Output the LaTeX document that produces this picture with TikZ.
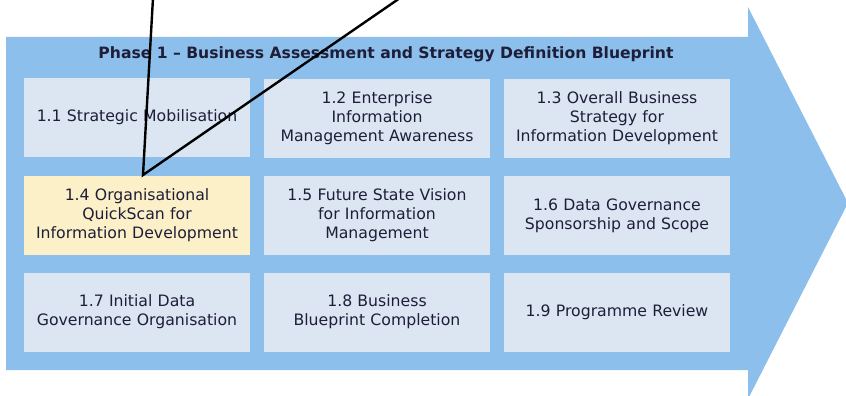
\documentclass[tikz,border=0pt]{standalone}
\usepackage{fontspec}
\setmainfont{DejaVu Sans}
\definecolor{arrowblue}{HTML}{8CBFEC}
\definecolor{boxfill}{HTML}{DCE6F2}
\definecolor{yellowfill}{HTML}{FCF0C8}
\definecolor{txt}{HTML}{1E1E38}
\begin{document}
\begin{tikzpicture}[x=1pt,y=-1pt,
  stepbox/.style={fill=boxfill, draw=none, minimum width=226pt, minimum height=79pt,
    inner sep=0pt, align=center, text=txt, font=\fontsize{15.7}{19}\selectfont, text width=224pt},
  hilite/.style={stepbox, fill=yellowfill},
  pointer/.style={line width=2.4pt, black, line cap=round}]
\useasboundingbox (0,0) rectangle (846,396);
\fill[arrowblue] (6,37) -- (748,37) -- (748,7) -- (848,203) -- (748,399) -- (748,370) -- (6,370) -- cycle;
\node[text=txt, font=\bfseries\fontsize{15.6}{18}\selectfont] (title) at (386,54) {Phase 1 – Business Assessment and Strategy Definition Blueprint};
\node[stepbox] (b11) at (137,117.5) {1.1 Strategic Mobilisation};
\node[stepbox] (b12) at (377,118.5) {1.2 Enterprise\\Information\\Management Awareness};
\node[stepbox] (b13) at (617,118.5) {1.3 Overall Business\\Strategy for\\Information Development};
\node[hilite] (b14) at (137,215.5) {1.4 Organisational\\QuickScan for\\Information Development};
\node[stepbox] (b15) at (377,215.5) {1.5 Future State Vision\\for Information\\Management};
\node[stepbox] (b16) at (617,215.5) {1.6 Data Governance\\Sponsorship and Scope};
\node[stepbox] (b17) at (137,312) {1.7 Initial Data\\Governance Organisation};
\node[stepbox] (b18) at (377,312) {1.8 Business\\Blueprint Completion};
\node[stepbox] (b19) at (617,312) {1.9 Programme Review};
\coordinate (t1) at (153,-2);
\coordinate (t2) at (400,-2);
\coordinate (v) at (143,175);
\draw[pointer] (t1) -- (v) -- (t2);
\end{tikzpicture}
\end{document}
